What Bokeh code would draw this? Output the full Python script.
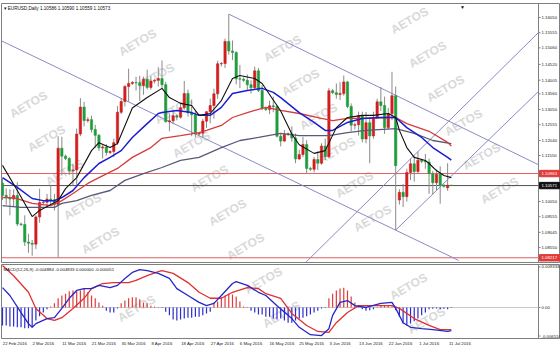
from bokeh.plotting import figure
from bokeh.layouts import column
from bokeh.models import Range1d, FixedTicker, Label, ColumnDataSource
from bokeh.core.properties import value
from bokeh.embed import file_html
from bokeh.resources import INLINE

# ---------------- data ----------------
symbol_title = "\u25be EURUSD,Daily  1.10586 1.10590 1.10559 1.10573"
macd_title = "MACD(12,26,9) -0.004884 -0.004833 0.000000 -0.000051"

date_ticks = [0, 8, 16, 24, 32, 40, 48, 56, 64, 72, 80, 88, 96, 104, 112, 120]
date_labels = ["22 Feb 2016", "2 Mar 2016", "11 Mar 2016", "21 Mar 2016", "30 Mar 2016",
               "8 Apr 2016", "18 Apr 2016", "27 Apr 2016", "6 May 2016", "16 May 2016",
               "25 May 2016", "3 Jun 2016", "13 Jun 2016", "22 Jun 2016", "1 Jul 2016",
               "11 Jul 2016"]

opens = [1.1065, 1.1025, 1.1017, 1.1013, 1.1025, 1.0932, 1.0930, 1.0873, 1.0869, 1.0866,
         1.0955, 1.1002, 1.1003, 1.1013, 1.1011, 1.0995, 1.1179, 1.1153, 1.1145, 1.1105,
         1.1108, 1.1225, 1.1313, 1.1269, 1.1272, 1.1240, 1.1221, 1.1180, 1.1183, 1.1165,
         1.1168, 1.1197, 1.1296, 1.1331, 1.1380, 1.1390, 1.1393, 1.1392, 1.1383, 1.1404,
         1.1377, 1.1398, 1.1400, 1.1406, 1.1386, 1.1265, 1.1268, 1.1285, 1.1280, 1.1311,
         1.1357, 1.1294, 1.1288, 1.1225, 1.1228, 1.1267, 1.1298, 1.1318, 1.1356, 1.1454,
         1.1455, 1.1527, 1.1496, 1.1491, 1.1405, 1.1404, 1.1400, 1.1386, 1.1376, 1.1431,
         1.1367, 1.1309, 1.1305, 1.1317, 1.1314, 1.1218, 1.1202, 1.1224, 1.1226, 1.1212,
         1.1144, 1.1158, 1.1191, 1.1113, 1.1110, 1.1142, 1.1130, 1.1186, 1.1151, 1.1366,
         1.1360, 1.1354, 1.1357, 1.1395, 1.1315, 1.1254, 1.1255, 1.1285, 1.1209, 1.1262,
         1.1219, 1.1279, 1.1330, 1.1318, 1.1246, 1.1291, 1.1350, 1.1010, 1.1035, 1.1021,
         1.1100, 1.1128, 1.1103, 1.1140, 1.1136, 1.1134, 1.1096, 1.1066, 1.1094, 1.1058,
         1.1050, 1.10586]
highs = [1.1080, 1.1048, 1.1045, 1.1045, 1.1068, 1.0936, 1.0960, 1.0900, 1.0880, 1.0960,
         1.1047, 1.1008, 1.1030, 1.1058, 1.1030, 1.1218, 1.1216, 1.1158, 1.1150, 1.1128,
         1.1243, 1.1342, 1.1330, 1.1280, 1.1285, 1.1255, 1.1225, 1.1190, 1.1192, 1.1172,
         1.1210, 1.1316, 1.1342, 1.1385, 1.1438, 1.1398, 1.1412, 1.1415, 1.1412, 1.1435,
         1.1415, 1.1405, 1.1443, 1.1465, 1.1395, 1.1292, 1.1300, 1.1290, 1.1328, 1.1398,
         1.1370, 1.1338, 1.1300, 1.1232, 1.1275, 1.1300, 1.1340, 1.1373, 1.1464, 1.1460,
         1.1536, 1.1616, 1.1530, 1.1494, 1.1450, 1.1410, 1.1419, 1.1400, 1.1445, 1.1440,
         1.1385, 1.1312, 1.1334, 1.1347, 1.1320, 1.1226, 1.1238, 1.1230, 1.1250, 1.1227,
         1.1174, 1.1216, 1.1205, 1.1118, 1.1150, 1.1169, 1.1195, 1.1210, 1.1375, 1.1372,
         1.1390, 1.1394, 1.1416, 1.1398, 1.1325, 1.1262, 1.1298, 1.1298, 1.1297, 1.1280,
         1.1298, 1.1340, 1.1378, 1.1347, 1.1310, 1.1428, 1.1380, 1.1045, 1.1062, 1.1112,
         1.1145, 1.1155, 1.1168, 1.1144, 1.1160, 1.1145, 1.1105, 1.1110, 1.1120, 1.1062,
         1.1130, 1.10590]
lows = [1.1010, 1.0995, 1.0960, 1.0990, 1.0925, 1.0925, 1.0860, 1.0838, 1.0828, 1.0850,
        1.0936, 1.0996, 1.0985, 1.0990, 1.0976, 1.0822, 1.1090, 1.1140, 1.1092, 1.1058,
        1.1056, 1.1218, 1.1250, 1.1262, 1.1230, 1.1180, 1.1170, 1.1145, 1.1155, 1.1160,
        1.1150, 1.1190, 1.1290, 1.1315, 1.1330, 1.1385, 1.1367, 1.1333, 1.1353, 1.1370,
        1.1370, 1.1390, 1.1380, 1.1375, 1.1263, 1.1234, 1.1257, 1.1270, 1.1275, 1.1305,
        1.1282, 1.1218, 1.1215, 1.1220, 1.1212, 1.1245, 1.1260, 1.1275, 1.1340, 1.1445,
        1.1440, 1.1484, 1.1466, 1.1387, 1.1375, 1.1395, 1.1366, 1.1357, 1.1370, 1.1362,
        1.1303, 1.1300, 1.1290, 1.1296, 1.1214, 1.1185, 1.1200, 1.1218, 1.1200, 1.1130,
        1.1140, 1.1150, 1.1097, 1.1105, 1.1100, 1.1108, 1.1125, 1.1140, 1.1148, 1.1355,
        1.1340, 1.1336, 1.1350, 1.1309, 1.1234, 1.1240, 1.1220, 1.1198, 1.1195, 1.1130,
        1.1210, 1.1275, 1.1300, 1.1226, 1.1240, 1.1270, 1.0912, 1.0995, 1.0987, 1.1005,
        1.1075, 1.1070, 1.1095, 1.1130, 1.1112, 1.1030, 1.1028, 1.1040, 1.0998, 1.1050,
        1.1040, 1.10559]
closes = [1.1025, 1.1017, 1.1013, 1.1025, 1.0932, 1.0930, 1.0873, 1.0869, 1.0866, 1.0955,
          1.1002, 1.1003, 1.1013, 1.1011, 1.0995, 1.1179, 1.1153, 1.1145, 1.1105, 1.1108,
          1.1225, 1.1313, 1.1269, 1.1272, 1.1240, 1.1221, 1.1180, 1.1183, 1.1165, 1.1168,
          1.1197, 1.1296, 1.1331, 1.1380, 1.1390, 1.1393, 1.1392, 1.1383, 1.1404, 1.1377,
          1.1398, 1.1400, 1.1406, 1.1386, 1.1265, 1.1268, 1.1285, 1.1280, 1.1311, 1.1357,
          1.1294, 1.1288, 1.1225, 1.1228, 1.1267, 1.1298, 1.1318, 1.1356, 1.1454, 1.1455,
          1.1527, 1.1496, 1.1491, 1.1405, 1.1404, 1.1400, 1.1386, 1.1376, 1.1431, 1.1367,
          1.1309, 1.1305, 1.1317, 1.1314, 1.1218, 1.1202, 1.1224, 1.1226, 1.1212, 1.1144,
          1.1158, 1.1191, 1.1113, 1.1110, 1.1142, 1.1130, 1.1186, 1.1151, 1.1366, 1.1360,
          1.1354, 1.1357, 1.1395, 1.1315, 1.1254, 1.1255, 1.1285, 1.1209, 1.1262, 1.1219,
          1.1279, 1.1330, 1.1318, 1.1246, 1.1291, 1.1350, 1.1122, 1.1035, 1.1021, 1.1100,
          1.1128, 1.1103, 1.1140, 1.1136, 1.1134, 1.1096, 1.1066, 1.1094, 1.1058, 1.1055,
          1.1058, 1.10573]

# moving averages (bar index, price)
ma_black_idx = [0, 4, 8, 10, 15, 17, 20, 24, 26, 29, 31, 35, 39, 43, 45, 48, 51, 53, 56, 59, 62, 64,
                68, 70, 75, 78, 80, 84, 87, 90, 93, 97, 100, 104, 106, 107, 109, 111, 114, 115,
                117, 119, 121]
ma_black = [1.1123, 1.1041, 1.0956, 1.0976, 1.1008, 1.1047, 1.1083, 1.1171, 1.1197, 1.1181,
            1.1194, 1.1310, 1.1344, 1.1374, 1.1344, 1.1325, 1.1318, 1.1286, 1.1292, 1.1334,
            1.1406, 1.1416, 1.1406, 1.1390, 1.1300, 1.1225, 1.1190, 1.1162, 1.1171, 1.1246,
            1.1279, 1.1286, 1.1286, 1.1292, 1.1279, 1.1237, 1.1181, 1.1149, 1.1139, 1.1129,
            1.1106, 1.1090, 1.1083]
ma_blue_idx = [0, 4, 8, 11, 14, 16, 19, 22, 26, 29, 32, 35, 39, 42, 43, 47, 51, 53, 56, 59, 62,
               66, 70, 73, 75, 80, 84, 87, 89, 93, 97, 102, 106, 109, 113, 116, 120, 121]
ma_blue = [1.1083, 1.1051, 1.1015, 1.1008, 1.1008, 1.1018, 1.1041, 1.1083, 1.1129, 1.1149,
           1.1171, 1.1214, 1.1259, 1.1292, 1.1295, 1.1302, 1.1295, 1.1286, 1.1286, 1.1312,
           1.1357, 1.1367, 1.1374, 1.1361, 1.1344, 1.1295, 1.1263, 1.1237, 1.1237, 1.1263,
           1.1276, 1.1279, 1.1279, 1.1246, 1.1214, 1.1181, 1.1149, 1.1140]
ma_red_idx = [0, 3, 8, 13, 16, 19, 23, 26, 31, 35, 40, 43, 48, 53, 55, 59, 62, 66, 68, 71, 75,
              80, 86, 89, 93, 98, 104, 106, 109, 115, 120, 121]
ma_red = [1.1018, 1.1018, 1.0999, 1.0992, 1.1008, 1.1031, 1.1064, 1.1083, 1.1113, 1.1149,
          1.1181, 1.1211, 1.1220, 1.1230, 1.1237, 1.1253, 1.1279, 1.1295, 1.1302, 1.1312,
          1.1302, 1.1292, 1.1276, 1.1269, 1.1276, 1.1276, 1.1279, 1.1279, 1.1259, 1.1234,
          1.1198, 1.1186]
ma_grey_idx = [0, 5, 10, 14, 16, 20, 24, 29, 33, 38, 43, 48, 53, 59, 64, 69, 75, 80, 88, 93,
               98, 106, 111, 116, 121]
ma_grey = [1.0992, 1.0986, 1.0986, 1.0986, 1.0999, 1.1008, 1.1025, 1.1041, 1.1074, 1.1096,
           1.1116, 1.1139, 1.1149, 1.1181, 1.1204, 1.1214, 1.1227, 1.1220, 1.1220, 1.1230,
           1.1237, 1.1243, 1.1227, 1.1204, 1.1194]

# drawn objects: trend lines (bar index, price) and horizontal levels
trend_lines = [
    ([-0.3, 123.0], [1.1529, 1.0813]),
    ([61.0, 144.5], [1.1616, 1.1125]),
    ([81.7, 144.5], [1.0806, 1.1556]),
    ([106.0, 144.5], [1.0912, 1.1364]),
]
level_red = [1.10963, 1.08217]
level_bid = 1.10571

price_ticks = [1.16050, 1.15555, 1.15060, 1.14520, 1.14005, 1.13560, 1.13050, 1.12555,
               1.12040, 1.11550, 1.10050, 1.09555, 1.09045, 1.08550]

# MACD
macd_hist = [-0.0039, -0.0039, -0.0041, -0.0041, -0.0043, -0.0043, -0.0045, -0.0045, -0.0043, -0.0028,
             -0.0019, -0.0011, -0.0004, 0.0002, 0.0009, 0.0020, 0.0026, 0.0030, 0.0035, 0.0037,
             0.0035, 0.0037, 0.0041, 0.0033, 0.0026, 0.0020, 0.0011, 0.0004, -0.0007, -0.0011,
             -0.0011, -0.0002, 0.0009, 0.0015, 0.0020, 0.0022, 0.0022, 0.0018, 0.0011, 0.0009,
             0.0004, 0.0002, 0.0001, -0.0001, -0.0009, -0.0017, -0.0026, -0.0028, -0.0026, -0.0024,
             -0.0022, -0.0022, -0.0020, -0.0020, -0.0017, -0.0013, -0.0009, 0.0011, 0.0013, 0.0022,
             0.0026, 0.0030, 0.0028, 0.0024, 0.0013, 0.0002, 0.0001, -0.0007, -0.0011, -0.0015,
             -0.0015, -0.0020, -0.0020, -0.0024, -0.0026, -0.0024, -0.0028, -0.0033, -0.0033, -0.0028,
             -0.0024, -0.0022, -0.0019, -0.0015, -0.0011, -0.0007, -0.0002, -0.0001, 0.0020, 0.0030,
             0.0037, 0.0041, 0.0043, 0.0037, 0.0024, 0.0011, 0.0002, -0.0004, -0.0007, -0.0006,
             -0.0004, 0.0001, 0.0004, 0.0003, 0.0003, 0.0002, -0.0006, -0.0020, -0.0035, -0.0039,
             -0.0035, -0.0030, -0.0024, -0.0017, -0.0011, -0.0004, -0.0003, -0.0002, -0.0004, -0.0003,
             -0.0004, -0.0001]
macd_main_idx = [0, 2, 5, 7, 8, 9, 12, 14, 16, 18, 20, 22, 24, 26, 29, 31, 33, 35, 37, 39, 42, 45,
                 47, 50, 53, 55, 57, 59, 62, 63, 66, 69, 71, 74, 78, 80, 83, 86, 88, 89, 91, 93,
                 95, 98, 102, 105, 106, 108, 110, 113, 116, 120, 121]
macd_main = [0.0043, 0.0026, -0.0011, -0.0035, -0.0043, -0.0035, -0.0024, -0.0022, -0.0002, 0.0020,
             0.0037, 0.0041, 0.0041, 0.0048, 0.0043, 0.0048, 0.0063, 0.0076, 0.0082, 0.0080,
             0.0074, 0.0063, 0.0041, 0.0026, 0.0011, 0.0004, 0.0009, 0.0026, 0.0052, 0.0056,
             0.0048, 0.0033, 0.0026, 0.0004, -0.0024, -0.0043, -0.0059, -0.0061, -0.0046, -0.0017,
             0.0011, 0.0015, 0.0004, 0.0000, 0.0009, 0.0011, -0.0002, -0.0033, -0.0043, -0.0046,
             -0.0048, -0.0052, -0.0050]
macd_signal_idx = [0, 3, 7, 9, 12, 14, 16, 19, 22, 24, 27, 30, 34, 36, 39, 42, 43, 46, 50, 53, 56,
                   59, 62, 66, 69, 71, 75, 78, 82, 85, 88, 90, 93, 96, 99, 105, 107, 111, 115, 118,
                   121]
macd_signal = [0.0091, 0.0069, 0.0033, -0.0002, -0.0024, -0.0028, -0.0022, -0.0002, 0.0020, 0.0041,
               0.0052, 0.0054, 0.0054, 0.0059, 0.0069, 0.0078, 0.0080, 0.0074, 0.0054, 0.0033,
               0.0020, 0.0020, 0.0033, 0.0043, 0.0041, 0.0030, 0.0020, -0.0013, -0.0039, -0.0052,
               -0.0054, -0.0033, -0.0011, 0.0004, 0.0004, 0.0004, -0.0002, -0.0024, -0.0039, -0.0048,
               -0.0048]
macd_ticks = [0.0088, 0.0, -0.0062]
macd_tick_text = ["0.009333", "0.00", "-0.006510"]

# ---------------- styling ----------------
FONT = "Liberation Sans"
FS = "4.3px"
BULL = "#d21e1e"
BEAR = "#1f9d3c"
WICK = "#8a8a8a"
TREND = "#8a8ac4"
FRAME = "#7f7f7f"
FW = 559                      # frame spans chart + price-scale strip
X0 = -0.27
BAR_PX = 537 / (144.5 - X0)   # pixels per bar
AX = 144.5                    # price-scale line (bar units)
px = 1.0 / BAR_PX             # one pixel in bar units

n = len(closes)
idx = list(range(n))
xr = Range1d(X0, X0 + FW / BAR_PX)

p = figure(frame_width=FW, frame_height=259, x_range=xr, y_range=Range1d(1.08063, 1.16506),
           y_axis_location=None, x_axis_location=None,
           min_border_left=1, min_border_right=0, min_border_top=3, min_border_bottom=1,
           output_backend="svg", toolbar_location=None)
q = figure(frame_width=FW, frame_height=74, x_range=xr, y_range=Range1d(-0.00673, 0.00933),
           y_axis_location=None, x_axis_location="below",
           min_border_left=1, min_border_right=0, min_border_top=1, min_border_bottom=11,
           output_backend="svg", toolbar_location=None)

for f in (p, q):
    f.grid.visible = False
    f.outline_line_color = FRAME
    f.outline_line_width = 1
    f.background_fill_color = "white"
    f.border_fill_color = "white"

# date axis: MT4 labels start at the bar, so shift centre by half the label width
date_pos = [round(t + len(s) * 0.52 * 4.3 / 2 * px, 2) for t, s in zip(date_ticks, date_labels)]
q.xaxis.ticker = FixedTicker(ticks=date_pos)
q.xaxis.major_label_overrides = dict(zip(date_pos, date_labels))
q.xaxis.axis_line_color = None
q.xaxis.major_tick_line_color = None
q.xaxis.major_tick_out = 0
q.xaxis.major_tick_in = 0
q.xaxis.minor_tick_line_color = None
q.xaxis.minor_tick_out = 0
q.xaxis.major_label_text_font = FONT
q.xaxis.major_label_text_font_size = FS
q.xaxis.major_label_text_color = "#222222"
q.xaxis.major_label_standoff = 2

# watermark lattice (screen pixels of the whole page); only whole words inside a panel
def watermarks(fig, left, right, top, bottom):
    for m in range(-4, 6):
        for k in range(-4, 14):
            sx = 137 + 145 * m + 18 * k
            sy = 42 + 6 * m + 34 * k
            if left + 22 <= sx <= right - 22 and top + 14 <= sy <= bottom - 14:
                fig.add_layout(Label(x=sx - left, y=bottom - sy, x_units="screen", y_units="screen",
                                     text="AETOS", angle=0.52, text_align="center",
                                     text_baseline="middle", text_font=FONT,
                                     text_font_style="bold", text_font_size="12px",
                                     text_color="#d9d9d9", level="underlay"))

watermarks(p, 1, 538, 3, 262)
watermarks(q, 1, 538, 264, 338)

# price scale strip (drawn in the frame, right of the chart)
def price_scale(fig, ticks, labels, y0, y1):
    fig.segment(x0=[AX], y0=[y0], x1=[AX], y1=[y1], line_color=FRAME, line_width=1)
    fig.segment(x0=[AX] * len(ticks), y0=ticks, x1=[AX + 2 * px] * len(ticks), y1=ticks,
                line_color=FRAME, line_width=1)
    fig.text(x=[AX + 3 * px] * len(ticks), y=ticks, text=labels, text_align="left",
             text_baseline="middle", text_font=value(FONT), text_font_size=FS,
             text_color="#222222")

price_scale(p, price_ticks, [f"{t:.5f}" for t in price_ticks], 1.08063, 1.16506)
price_scale(q, macd_ticks, macd_tick_text, -0.00673, 0.00933)

# horizontal levels (stop at the price scale)
p.segment(x0=[X0] * 2, y0=level_red, x1=[AX] * 2, y1=level_red, line_color="#e06060", line_width=1)
p.segment(x0=[X0], y0=[level_bid], x1=[AX], y1=[level_bid], line_color="#505050", line_width=1)

# trend lines
for xs, ys in trend_lines:
    p.line(xs, ys, line_color=TREND, line_width=1)

# candles
up = [c >= o for o, c in zip(opens, closes)]
src = ColumnDataSource(dict(
    x=idx, o=opens, h=highs, l=lows, c=closes,
    top=[max(o, c) for o, c in zip(opens, closes)],
    bot=[min(o, c) for o, c in zip(opens, closes)],
    col=[BULL if u else BEAR for u in up]))
p.segment(x0="x", y0="l", x1="x", y1="h", source=src, line_color=WICK, line_width=1)
p.vbar(x="x", width=0.62, top="top", bottom="bot", source=src,
       fill_color="col", line_color="col", line_width=0.6)

# moving averages
p.line(ma_grey_idx, ma_grey, line_color="#5a5a78", line_width=1.3)
p.line(ma_red_idx, ma_red, line_color="#d63c3c", line_width=1.3)
p.line(ma_blue_idx, ma_blue, line_color="#1c1cd0", line_width=1.5)
p.line(ma_black_idx, ma_black, line_color="#111111", line_width=1.1)

# price tags on the price scale
tag_vals = [level_red[0], level_bid, level_red[1]]
tag_cols = ["#e03c3c", "#111111", "#e03c3c"]
half = 3.2 * 0.000326
p.quad(left=[AX + px] * 3, right=[AX + 21 * px] * 3,
       top=[v + half for v in tag_vals], bottom=[v - half for v in tag_vals],
       fill_color=tag_cols, line_color=tag_cols)
p.text(x=[AX + 3 * px] * 3, y=tag_vals, text=[f"{v:.5f}" for v in tag_vals],
       text_align="left", text_baseline="middle", text_font=value(FONT),
       text_font_size=FS, text_color="white")

p.add_layout(Label(x=2, y=257, x_units="screen", y_units="screen", text=symbol_title,
                   text_font=FONT, text_font_size="4.6px", text_color="#111111",
                   text_baseline="top"))
p.add_layout(Label(x=461, y=259, x_units="screen", y_units="screen", text="\u25bc",
                   text_font=FONT, text_font_size="5px", text_color="#111111",
                   text_baseline="top", text_align="center"))

# MACD panel
q.segment(x0=[X0], y0=[0.0], x1=[AX], y1=[0.0], line_color="#c8c8c8", line_width=1)
hsrc = ColumnDataSource(dict(x=idx, z=[0.0] * n, h=macd_hist,
                             col=["#e03a3a" if v > 0 else "#2b2bd0" for v in macd_hist]))
q.segment(x0="x", y0="z", x1="x", y1="h", source=hsrc, line_color="col", line_width=1.2)
q.line(macd_signal_idx, macd_signal, line_color="#e03030", line_width=1.3)
q.line(macd_main_idx, macd_main, line_color="#2626c8", line_width=1.3)
q.add_layout(Label(x=2, y=72, x_units="screen", y_units="screen", text=macd_title,
                   text_font=FONT, text_font_size="4.3px", text_color="#111111",
                   text_baseline="top"))

layout = column(p, q, spacing=0)
open("out.html", "w").write(file_html(layout, INLINE))
